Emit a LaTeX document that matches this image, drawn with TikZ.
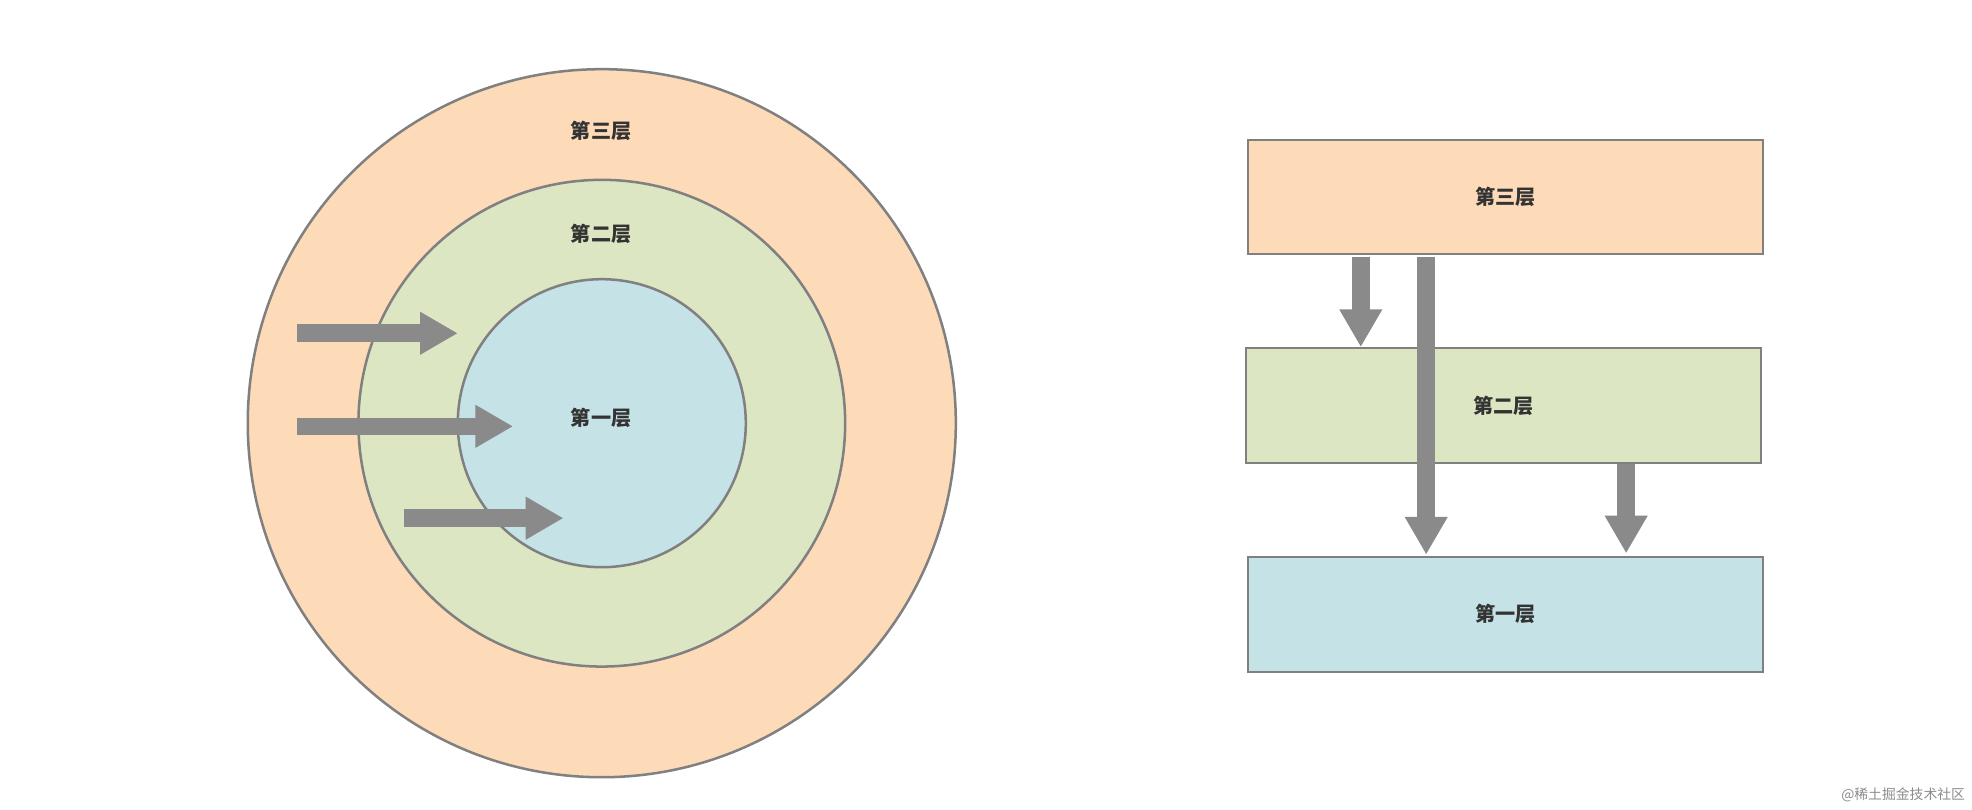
\documentclass[tikz,border=0pt]{standalone}
\usepackage{fontspec}
\newfontfamily\cjk{Noto Sans CJK SC}
\usetikzlibrary{arrows.meta}
\definecolor{org}{HTML}{FDDAB8}
\definecolor{grn}{HTML}{DDE6C3}
\definecolor{blu}{HTML}{C5E2E6}
\definecolor{edge}{HTML}{808080}
\definecolor{arr}{HTML}{8A8A8A}
\begin{document}
\begin{tikzpicture}[x=1pt,y=-1pt,
  ring/.style={circle,draw=edge,line width=2pt,inner sep=0},
  layer/.style={draw=edge,line width=1.5pt,minimum width=410pt,minimum height=91pt},
  lbl/.style={font=\cjk\fontsize{16}{18}\selectfont\bfseries,text=black!80},
  fat/.style={arr,line width=14pt,-{Triangle[width=32pt,length=30pt]}}]
\useasboundingbox[fill=white] (0,0) rectangle (1568,644);
\node[ring,fill=org,minimum size=563pt] (c3) at (478.5,336.5) {};
\node[ring,fill=grn,minimum size=387pt] (c2) at (478.5,336.5) {};
\node[ring,fill=blu,minimum size=229pt] (c1) at (478.5,336.5) {};
\node[lbl] (t3) at (478,104) {第三层};
\node[lbl] (t2) at (478,186) {第二层};
\node[lbl] (t1) at (478,332) {第一层};
\coordinate (a1s) at (236,265); \coordinate (a1e) at (364,265);
\coordinate (a2s) at (236,339); \coordinate (a2e) at (408,339);
\coordinate (a3s) at (321,412); \coordinate (a3e) at (448,412);
\draw[fat] (a1s) -- (a1e);
\draw[fat] (a2s) -- (a2e);
\draw[fat] (a3s) -- (a3e);
\node[layer,fill=org] (r3) at (1197,156.5) {};
\node[layer,fill=grn] (r2) at (1195.5,322.5) {};
\node[layer,fill=blu] (r1) at (1197,488.5) {};
\node[lbl] at (r3) {第三层};
\node[lbl] at (r2) {第二层};
\node[lbl] at (r1) {第一层};
\coordinate (b1s) at (1082,204); \coordinate (b1e) at (1082,276);
\coordinate (b2s) at (1134,204); \coordinate (b2e) at (1134,441);
\coordinate (b3s) at (1293,369); \coordinate (b3e) at (1293,440);
\draw[fat] (b1s) -- (b1e);
\draw[fat] (b2s) -- (b2e);
\draw[fat] (b3s) -- (b3e);
\node[font=\cjk\fontsize{11}{13}\selectfont,text=black!45,anchor=east] (wm) at (1566,632) {@稀土掘金技术社区};
\end{tikzpicture}
\end{document}
